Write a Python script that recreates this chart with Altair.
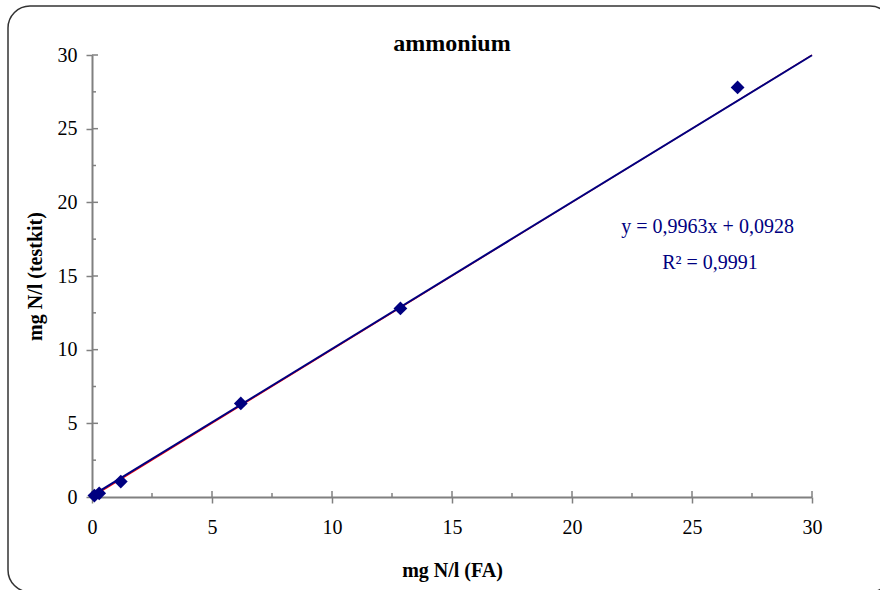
import altair as alt
import pandas as pd

# Data
fa_values = [0.1, 0.3, 1.2, 6.2, 12.85, 26.9]        # mg N/l (FA)
kit_values = [0.1, 0.25, 1.05, 6.35, 12.8, 27.8]      # mg N/l (testkit)
ref_x = [0, 30]                                        # 1:1 reference line
ref_y = [0, 30]
trend_slope = 0.9963                                   # from the printed equation
trend_intercept = 0.0928
trend_x = [0, 30]
x_major = [0, 5, 10, 15, 20, 25, 30]
x_minor = [2.5, 7.5, 12.5, 17.5, 22.5, 27.5]
y_major = [0, 5, 10, 15, 20, 25, 30]
y_minor = [2.5, 7.5, 12.5, 17.5, 22.5, 27.5]
eq_lines = ["y = 0,9963x + 0,0928", "R\u00b2 = 0,9991"]
eq_x = [25.65, 25.75]
eq_y = [17.92, 15.5]
title_text = "ammonium"

NAVY = "#000080"
GRAY = "#808080"
SERIF = "Liberation Serif"
W, H = 720, 442

points = pd.DataFrame({"x": fa_values, "y": kit_values})
ref = pd.DataFrame({"x": ref_x, "y": ref_y})
trend = pd.DataFrame({"x": trend_x})
eq = pd.DataFrame({"x": eq_x, "y": eq_y, "t": eq_lines})

xscale = alt.Scale(domain=[0, 30], nice=False, zero=False)
yscale = alt.Scale(domain=[0, 30], nice=False, zero=False)

xaxis = alt.Axis(values=x_major, grid=False, domainColor=GRAY, domainWidth=2,
                 tickColor=GRAY, tickWidth=1.5, tickSize=6,
                 labelFont=SERIF, labelFontSize=20, labelColor="black", labelPadding=14,
                 labelFlush=False,
                 title="mg N/l (FA)", titleFont=SERIF, titleFontSize=20,
                 titleFontWeight="bold", titleColor="black",
                 titleX=W / 2, titleY=79, titleBaseline="alphabetic")
yaxis = alt.Axis(values=y_major, grid=False, domainColor=GRAY, domainWidth=2,
                 tickColor=GRAY, tickWidth=1.5, tickSize=6,
                 labelFont=SERIF, labelFontSize=20, labelColor="black", labelPadding=9,
                 labelFlush=False,
                 title="mg N/l (testkit)", titleFont=SERIF, titleFontSize=20,
                 titleFontWeight="bold", titleColor="black",
                 titleX=-51, titleY=H / 2, titleBaseline="alphabetic", titleAngle=270)

X = alt.X("x:Q", scale=xscale, axis=xaxis)
Y = alt.Y("y:Q", scale=yscale, axis=yaxis)

one = pd.DataFrame({"a": [0]})

border = alt.Chart(one).mark_rect(
    fillOpacity=0, stroke="#333333", strokeWidth=1.5, cornerRadius=22, clip=False
).encode(x=alt.value(-84), x2=alt.value(800), y=alt.value(-49), y2=alt.value(537))

ref_line = alt.Chart(ref).mark_line(color="#ff0000", strokeWidth=1.2).encode(x=X, y=Y)

trend_line = alt.Chart(trend).transform_calculate(
    y=f"{trend_slope} * datum.x + {trend_intercept}"
).mark_line(color=NAVY, strokeWidth=2).encode(x=X, y=Y)

pts = alt.Chart(points).mark_point(
    shape="diamond", filled=True, size=190, color=NAVY, opacity=1
).encode(x=X, y=Y)

xmaj = alt.Chart(pd.DataFrame({"x": x_major})).mark_rule(color=GRAY, strokeWidth=1.5).encode(
    x=X, y=alt.value(H - 6), y2=alt.value(H))
xmin = alt.Chart(pd.DataFrame({"x": x_minor})).mark_rule(color=GRAY, strokeWidth=1.5).encode(
    x=X, y=alt.value(H - 4), y2=alt.value(H))
ymaj = alt.Chart(pd.DataFrame({"y": y_major})).mark_rule(color=GRAY, strokeWidth=1.5).encode(
    y=Y, x=alt.value(0), x2=alt.value(6))
ymin = alt.Chart(pd.DataFrame({"y": y_minor})).mark_rule(color=GRAY, strokeWidth=1.5).encode(
    y=Y, x=alt.value(0), x2=alt.value(4))

eq_text = alt.Chart(eq).mark_text(
    font=SERIF, fontSize=20, color=NAVY, align="center", baseline="alphabetic"
).encode(x=X, y=Y, text="t:N")

title = alt.Chart(pd.DataFrame({"t": [title_text]})).mark_text(
    font=SERIF, fontSize=24, fontWeight="bold", color="black",
    align="center", baseline="alphabetic"
).encode(x=alt.value(W / 2), y=alt.value(-4), text="t:N")

chart = alt.layer(
    border, xmaj, xmin, ymaj, ymin, ref_line, trend_line, pts, eq_text, title
).properties(
    width=W, height=H,
    padding={"left": 92, "top": 55, "right": 68, "bottom": 93},
    autosize=alt.AutoSizeParams(type="none"),
    background="white",
).configure_view(stroke=None)

chart.save("out.html", embed_options={"renderer": "svg", "actions": False})
